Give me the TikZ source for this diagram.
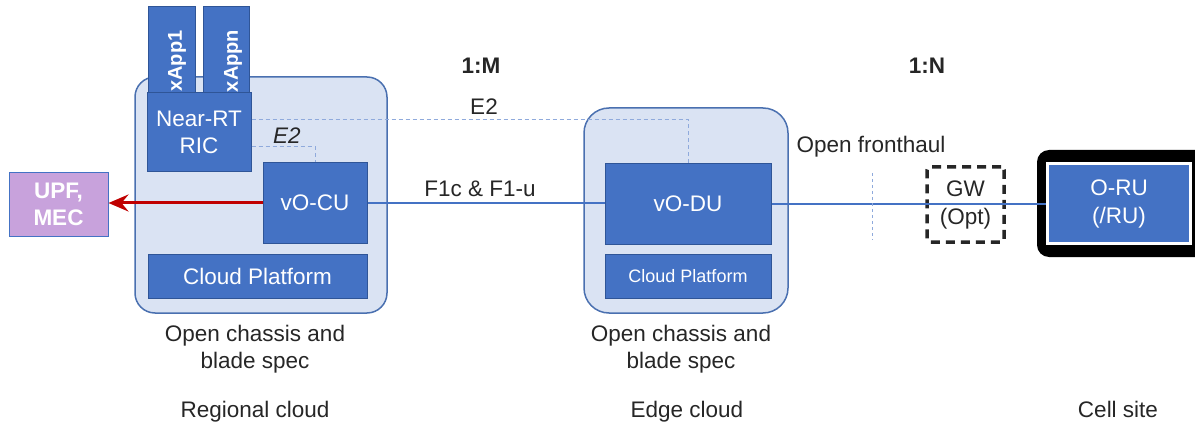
\documentclass[tikz,border=0pt]{standalone}
\usepackage{fontspec}
\setmainfont{Liberation Sans}
\usetikzlibrary{arrows.meta,calc}
\definecolor{boxblue}{HTML}{4472C4}
\definecolor{boxedge}{HTML}{2F5597}
\definecolor{cloudfill}{HTML}{DAE3F3}
\definecolor{cloudedge}{HTML}{4A70B0}
\definecolor{dashblue}{HTML}{8FAADC}
\definecolor{upffill}{HTML}{C8A2DC}
\definecolor{textdark}{HTML}{262626}
\definecolor{arrowred}{HTML}{C00000}
\tikzset{
  bluebox/.style={draw=boxedge, fill=boxblue, line width=1pt, inner sep=0pt,
    text=white, align=center, font=\fontsize{22.5}{27}\selectfont},
  cloudbox/.style={draw=cloudedge, fill=cloudfill, line width=1.5pt, inner sep=0pt},
  lbl/.style={text=textdark, font=\fontsize{22.5}{27}\selectfont, align=center, inner sep=0pt},
  boldlbl/.style={lbl, font=\fontsize{22.5}{27}\selectfont\bfseries},
  apptext/.style={text=white, inner sep=0pt, font=\fontsize{20}{24}\selectfont\bfseries},
  e2line/.style={draw=dashblue, line width=1pt, dash pattern=on 4pt off 3pt},
  link/.style={draw=boxblue, line width=1.5pt},
}
\begin{document}
\begin{tikzpicture}[x=1pt,y=-1pt]
\useasboundingbox (0,0) rectangle (1195,425);
\clip (0,0) rectangle (1195,425);

% cloud containers
\node[cloudbox, rounded corners=20pt, minimum width=252pt, minimum height=236pt] (regional) at (261,195) {};
\node[cloudbox, rounded corners=25pt, minimum width=204pt, minimum height=205pt] (edge) at (686,210.5) {};

% xApps and the near-RT RIC
\node[bluebox, minimum width=47pt, minimum height=88pt] (xapp1) at (171.5,51) {};
\node[bluebox, minimum width=46pt, minimum height=88pt] (xappn) at (226,51) {};
\node[apptext, rotate=90] (xapp1t) at (177,61) {xApp1};
\node[apptext, rotate=90] (xappnt) at (233,61) {xAppn};
\node[bluebox, minimum width=104pt, minimum height=79pt] (ric) at (199,132.5) {Near-RT\\RIC};

% regional cloud contents
\node[bluebox, minimum width=104pt, minimum height=80pt] (cu) at (315,203) {vO-CU};
\node[bluebox, minimum width=219pt, minimum height=44pt] (cp1) at (257.5,276) {Cloud Platform};

% edge cloud contents
\node[bluebox, minimum width=166pt, minimum height=80pt] (du) at (688,204) {vO-DU};
\node[bluebox, minimum width=166pt, minimum height=44pt, font=\fontsize{18}{22}\selectfont] (cp2) at (688,276) {Cloud Platform};

% core side
\node[bluebox, draw=boxblue, fill=upffill, minimum width=99pt, minimum height=63pt,
  font=\fontsize{22.5}{27}\selectfont\bfseries] (upf) at (58.5,204.5) {UPF,\\MEC};

% gateway and radio unit
\node[lbl, draw=black!85, line width=3.5pt, dash pattern=on 9pt off 6pt, rounded corners=3pt,
  minimum width=77pt, minimum height=75pt, font=\fontsize{22.5}{28}\selectfont] (gw) at (965.5,204.5) {GW\\(Opt)};
\fill[black, rounded corners=12pt] (1037,150) rectangle (1215,257);
\node[bluebox, draw=white, line width=3pt, minimum width=143pt, minimum height=80pt,
  font=\fontsize{22.5}{28}\selectfont] (ru) at (1119,203.5) {O-RU\\(/RU)};

% interfaces
\draw[e2line] ($(ric.east)+(0,-12.5)$) -| (du.north);
\draw[e2line] ($(ric.east)+(0,14.5)$) -| (cu.north);
\draw[link] (cu.east) -- (du.west |- cu.east);
\draw[link] (du.east) -- (ru.west |- du.east);
\draw[arrowred, line width=3pt, -{Stealth[length=20pt, width=17pt, inset=7pt]}] (cu.west) -- (upf.east |- cu.west);
\coordinate (fhtop) at (872,173);
\coordinate (fhbot) at (872,240);
\draw[e2line, dash pattern=on 3pt off 3pt] (fhtop) -- (fhbot);

% labels
\node[boldlbl] (ratio1) at (481,66) {1:M};
\node[boldlbl] (ratio2) at (927,66) {1:N};
\node[lbl] (e2a) at (484,107) {E2};
\node[lbl, font=\fontsize{22.5}{27}\selectfont\itshape] (e2b) at (287,136) {E2};
\node[lbl] (f1) at (480,189) {F1c \& F1-u};
\node[lbl] (fh) at (871,147) {Open fronthaul};

\node[lbl] (spec1) at (255,349) {Open chassis and\\blade spec};
\node[lbl] (spec2) at (681,349) {Open chassis and\\blade spec};
\node[lbl] (site1) at (255,412) {Regional cloud};
\node[lbl] (site2) at (687,412) {Edge cloud};
\node[lbl] (site3) at (1118,409) {Cell site};
\end{tikzpicture}
\end{document}
